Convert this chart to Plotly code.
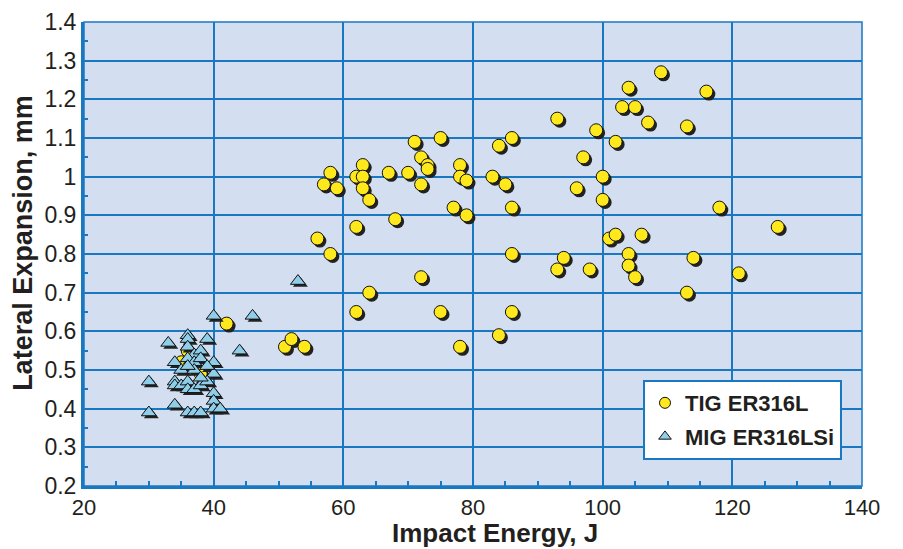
import plotly.graph_objects as go

# TIG ER316L data
tig_energy = [42, 51, 52, 54, 56, 57, 58, 59, 58, 62, 62, 62, 63, 63, 63, 64, 64, 67, 68, 70,
              71, 72, 72, 72, 73, 73, 75, 75, 77, 78, 78, 78, 79, 79, 83, 84, 84, 85, 86, 86,
              86, 86, 93, 93, 94, 96, 97, 98, 99, 100, 100, 101, 102, 102, 103, 104, 104, 104,
              105, 105, 106, 107, 109, 113, 113, 114, 116, 118, 121, 127, 36, 35, 38]
tig_lat = [0.62, 0.56, 0.58, 0.56, 0.84, 0.98, 1.01, 0.97, 0.80, 0.87, 0.65, 1.00, 1.03, 1.00,
           0.97, 0.94, 0.70, 1.01, 0.89, 1.01, 1.09, 1.05, 0.98, 0.74, 1.03, 1.02, 1.10, 0.65,
           0.92, 1.03, 1.00, 0.56, 0.99, 0.90, 1.00, 1.08, 0.59, 0.98, 1.10, 0.92, 0.80, 0.65,
           1.15, 0.76, 0.79, 0.97, 1.05, 0.76, 1.12, 1.00, 0.94, 0.84, 0.85, 1.09, 1.18, 1.23,
           0.80, 0.77, 1.18, 0.74, 0.85, 1.14, 1.27, 1.13, 0.70, 0.79, 1.22, 0.92, 0.75, 0.87,
           0.55, 0.52, 0.49]

# MIG ER316LSi data
mig_energy = [40, 46, 33, 36, 36, 39, 44, 36, 37, 38, 34, 36, 37, 38, 40, 35, 37, 40, 30, 34,
              34, 35, 36, 36, 37, 38, 39, 40, 40, 40, 41, 34, 30, 36, 37, 38, 53, 38, 39, 36]
mig_lat = [0.64, 0.64, 0.57, 0.59, 0.58, 0.58, 0.55, 0.56, 0.54, 0.55, 0.52, 0.53, 0.52, 0.53,
           0.52, 0.50, 0.50, 0.49, 0.47, 0.47, 0.46, 0.46, 0.47, 0.45, 0.45, 0.46, 0.47, 0.44,
           0.42, 0.40, 0.40, 0.41, 0.39, 0.39, 0.39, 0.39, 0.73, 0.48, 0.51, 0.51]

x_ticks = [20, 40, 60, 80, 100, 120, 140]
y_ticks = [0.2, 0.3, 0.4, 0.5, 0.6, 0.7, 0.8, 0.9, 1.0, 1.1, 1.2, 1.3, 1.4]
y_tick_text = ["0.2", "0.3", "0.4", "0.5", "0.6", "0.7", "0.8", "0.9", "1", "1.1", "1.2", "1.3", "1.4"]
x_title = "Impact Energy, J"
y_title = "Lateral Expansion, mm"

BLUE = "#1a78c2"
TXT = "#231f20"
FONT = "Liberation Sans, Arial, sans-serif"
SHX, SHY = 0.38, -0.0065

fig = go.Figure()
# TIG: shadow then marker
fig.add_trace(go.Scatter(x=[v + SHX for v in tig_energy], y=[v + SHY for v in tig_lat], mode="markers",
                         marker=dict(symbol="circle", size=13, color="#222222", line=dict(width=0)),
                         showlegend=False, hoverinfo="skip"))
fig.add_trace(go.Scatter(x=tig_energy, y=tig_lat, mode="markers", name="TIG ER316L",
                         marker=dict(symbol="circle", size=13, color="#ffe81c",
                                     line=dict(color="#111111", width=1)), showlegend=False))
# MIG: shadow then marker (drawn on top)
fig.add_trace(go.Scatter(x=[v + SHX for v in mig_energy], y=[v + SHY for v in mig_lat], mode="markers",
                         marker=dict(symbol="triangle-up", size=13, color="#222222", line=dict(width=0)),
                         showlegend=False, hoverinfo="skip"))
fig.add_trace(go.Scatter(x=mig_energy, y=mig_lat, mode="markers", name="MIG ER316LSi",
                         marker=dict(symbol="triangle-up", size=13, color="#8fcde8",
                                     line=dict(color="#111111", width=1)), showlegend=False))
# legend entries
fig.add_trace(go.Scatter(x=[None], y=[None], mode="markers", name="<b>TIG ER316L</b>", legendgroup="a",
                         marker=dict(symbol="circle", size=11, color="#ffe81c", line=dict(color="#111111", width=1))))
fig.add_trace(go.Scatter(x=[None], y=[None], mode="markers", name="<b>MIG ER316LSi</b>", legendgroup="b",
                         marker=dict(symbol="triangle-up", size=11, color="#8fcde8", line=dict(color="#111111", width=1))))

fig.add_shape(type="rect", xref="paper", yref="paper", x0=0, y0=0, x1=1, y1=1,
              line=dict(color=BLUE, width=1.5), layer="above")

fig.add_annotation(text="<b>" + x_title + "</b>", xref="paper", yref="paper", x=0.528, y=-0.101,
                   xanchor="center", yanchor="middle", showarrow=False,
                   font=dict(size=26, family=FONT, color=TXT))
fig.add_annotation(text="<b>" + y_title + "</b>", xref="paper", yref="paper", x=-0.0784, y=0.524,
                   xanchor="center", yanchor="middle", textangle=-90, showarrow=False,
                   font=dict(size=27, family=FONT, color=TXT))

fig.update_layout(
    width=903, height=549,
    margin=dict(l=76, r=49, t=14, b=71),
    paper_bgcolor="white",
    plot_bgcolor="#d3dff0",
    font=dict(family=FONT, color=TXT),
    showlegend=True,
    legend=dict(x=0.7185, y=0.056, xanchor="left", yanchor="bottom",
                bgcolor="white", bordercolor=BLUE, borderwidth=2,
                font=dict(size=22, family=FONT, color=TXT),
                itemwidth=30, tracegroupgap=2),
    xaxis=dict(range=[20, 140], tickvals=x_ticks, showgrid=True, gridcolor=BLUE, gridwidth=1.5,
               showline=True, linecolor=BLUE, linewidth=3, zeroline=False, automargin=False,
               ticks="inside", ticklen=5, tickcolor=BLUE, tickwidth=1.5,
               minor=dict(dtick=5, ticks="inside", ticklen=5, tickcolor=BLUE, showgrid=False),
               tickfont=dict(size=22, color=TXT)),
    yaxis=dict(range=[0.2, 1.4], tickvals=y_ticks, ticktext=y_tick_text, showgrid=True, gridcolor=BLUE,
               gridwidth=1.5, showline=True, linecolor=BLUE, linewidth=3, zeroline=False, automargin=False,
               ticks="inside", ticklen=5, tickcolor=BLUE, tickwidth=1.5,
               minor=dict(dtick=0.05, ticks="inside", ticklen=4, tickcolor=BLUE, showgrid=False),
               tickfont=dict(size=23, color=TXT)),
)

fig.write_html("out.html")
